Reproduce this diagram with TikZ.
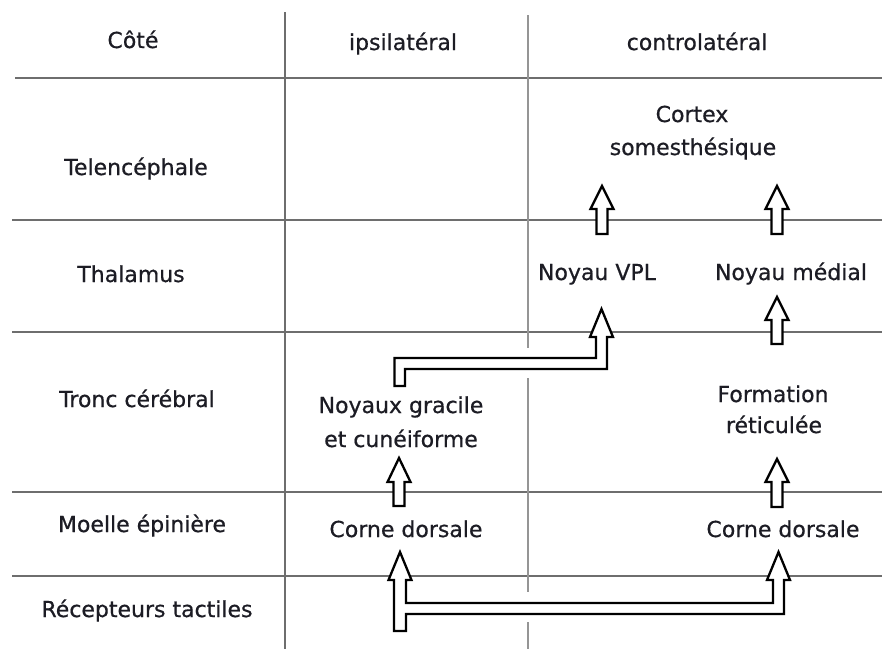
\documentclass[tikz,border=0pt]{standalone}
\usepackage{fontspec}
\setmainfont{DejaVu Sans}
\newfontface\medfont{DejaVu Sans}[FakeBold=0.6]
\definecolor{txt}{HTML}{1C1C24}
\definecolor{gridA}{HTML}{6E6E6E}
\definecolor{gridB}{HTML}{959595}
\begin{document}
\begin{tikzpicture}[x=1pt,y=-1pt,
  lbl/.style={anchor=base,inner sep=0pt,text=txt,font=\medfont\fontsize{22}{26}\selectfont},
  hline/.style={draw=gridA,line width=1.6pt},
  vlineA/.style={draw=gridA,line width=1.8pt},
  vlineB/.style={draw=gridB,line width=1.6pt},
  blockarrow/.style={draw=black,fill=white,line width=2.3pt,line join=miter}]
\useasboundingbox (0,0) rectangle (882,649);
\fill[white] (0,0) rectangle (882,649);
% grid
\draw[hline] (15,78) -- (882,78);
\draw[hline] (12,220) -- (882,220);
\draw[hline] (12,332) -- (882,332);
\draw[hline] (12,492) -- (882,492);
\draw[hline] (12,576) -- (882,576);
\draw[vlineA] (285,12) -- (285,649);
\draw[vlineB] (528,15) -- (528,348);
\draw[vlineB] (528,378) -- (528,592);
\draw[vlineB] (528,622) -- (528,649);
% headers
\node[lbl] (cote) at (133,48) {Côté};
\node[lbl] (ipsi) at (403,50) {ipsilatéral};
\node[lbl] (contro) at (697,50) {controlatéral};
% row labels
\node[lbl] (tel) at (136,175) {Telencéphale};
\node[lbl] (thal) at (131,282) {Thalamus};
\node[lbl] (tronc) at (137,407) {Tronc cérébral};
\node[lbl] (moelle) at (142,532) {Moelle épinière};
\node[lbl] (recep) at (147,617) {Récepteurs tactiles};
% contents
\node[lbl] (cortexA) at (692,122) {Cortex};
\node[lbl] (cortexB) at (693,155) {somesthésique};
\node[lbl] (vpl) at (597,280) {Noyau VPL};
\node[lbl] (medial) at (791,280) {Noyau médial};
\node[lbl] (gracA) at (401,413) {Noyaux gracile};
\node[lbl] (gracB) at (401,447) {et cunéiforme};
\node[lbl] (formA) at (773,402) {Formation};
\node[lbl] (formB) at (774,433) {réticulée};
\node[lbl] (corneL) at (406,537) {Corne dorsale};
\node[lbl] (corneR) at (783,537) {Corne dorsale};
% simple block arrows
\newcommand{\blockup}[4]{%
  \draw[blockarrow] (#1-5.5,#4) -- (#1-5.5,#3) -- (#1-11.5,#3) -- (#1,#2)
    -- (#1+11.5,#3) -- (#1+5.5,#3) -- (#1+5.5,#4) -- cycle;}
\blockup{602}{186}{209}{234}
\blockup{777}{186}{209}{234}
\blockup{777}{297}{320}{344}
\blockup{777}{459}{482}{507}
\blockup{399}{458}{482}{506}
% L-shaped arrow: Noyaux gracile -> Noyau VPL
\draw[blockarrow] (394.5,386) -- (394.5,358) -- (596,358) -- (596,337) -- (590,337)
  -- (601.5,309) -- (613,337) -- (607,337) -- (607,369) -- (405,369) -- (405,386) -- cycle;
% T-shaped arrow: receptors -> both dorsal horns
\draw[blockarrow] (394,631) -- (394,580) -- (388.5,580) -- (400,552) -- (411.5,580)
  -- (406,580) -- (406,603) -- (773,603) -- (773,580) -- (767,580) -- (778.5,552)
  -- (790,580) -- (784,580) -- (784,614) -- (406,614) -- (406,631) -- cycle;
\end{tikzpicture}
\end{document}
